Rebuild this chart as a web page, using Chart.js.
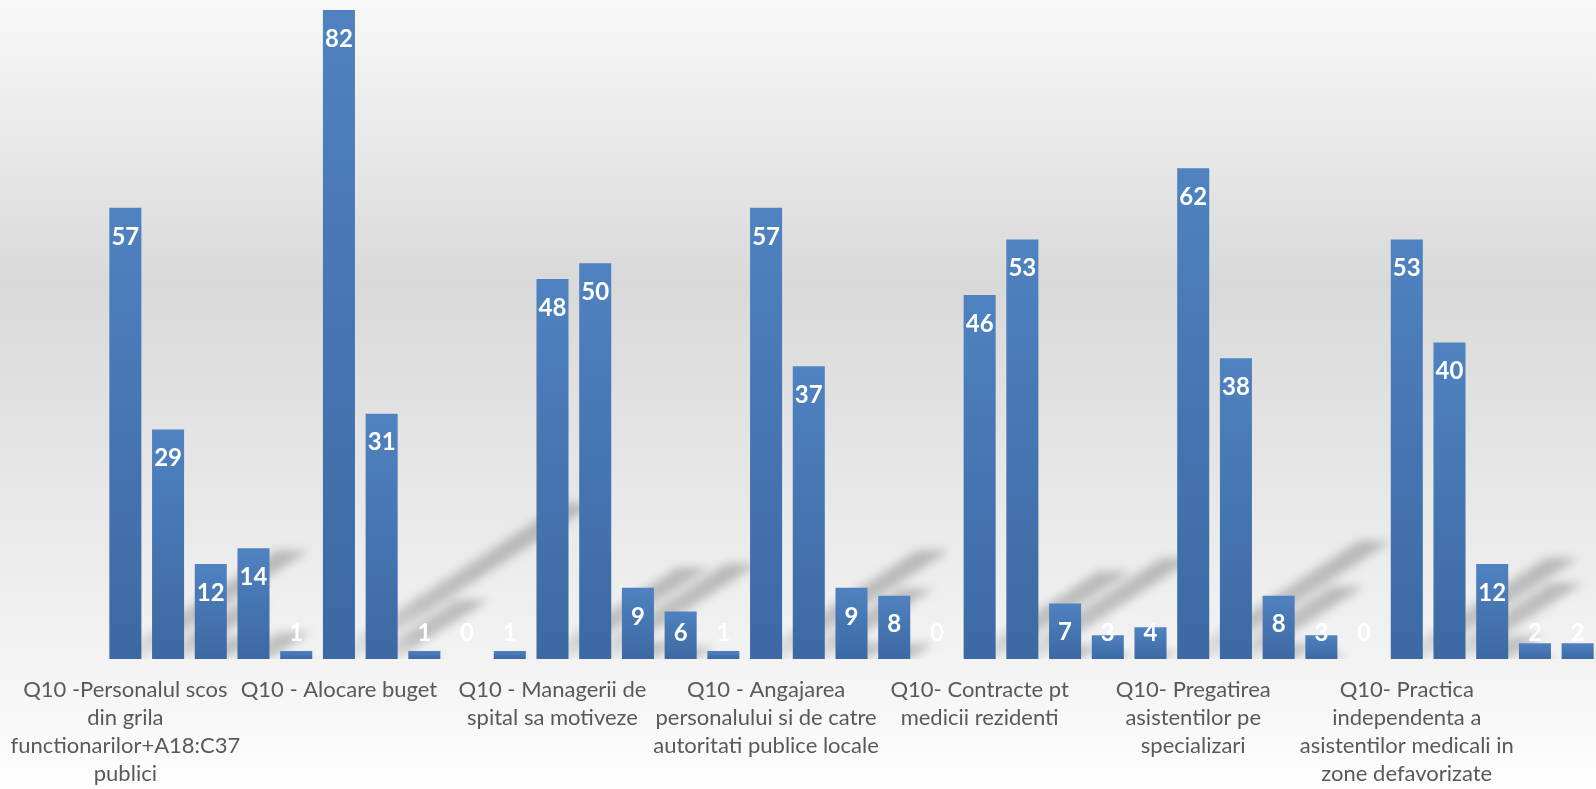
<!DOCTYPE html>
<html>
<head>
<meta charset="utf-8">
<script src="https://cdn.jsdelivr.net/npm/chart.js@4/dist/chart.umd.min.js"></script>
<style>
  html, body { margin: 0; padding: 0; background: #fff; overflow: hidden; }
  #wrap { width: 1599px; height: 789px; position: relative; }
</style>
</head>
<body>
<div id="wrap"><canvas id="q10Chart"></canvas></div>
<script>
// one label every five bars
const questionLabels = [
  ['Q10 -Personalul scos', 'din grila', 'functionarilor+A18:C37', 'publici'],
  ['Q10 - Alocare buget'],
  ['Q10 - Managerii de', 'spital sa motiveze'],
  ['Q10 - Angajarea', 'personalului si de catre', 'autoritati publice locale'],
  ['Q10- Contracte pt', 'medicii rezidenti'],
  ['Q10- Pregatirea', 'asistentilor pe', 'specializari'],
  ['Q10- Practica', 'independenta a', 'asistentilor medicali in', 'zone defavorizate']
];

const values = [
  57, 29, 12, 14, 1,
  82, 31, 1, 0, 1,
  48, 50, 9, 6, 1,
  57, 37, 9, 8, 0,
  46, 53, 7, 3, 4,
  62, 38, 8, 3, 0,
  53, 40, 12, 2, 2
];

const barsPerQuestion = 5;
const yMax = 82;

const labels = values.map((v, i) => i % barsPerQuestion === 0 ? questionLabels[i / barsPerQuestion] : '');

// grey backdrop behind the whole chart
const backdrop = {
  id: 'backdrop',
  beforeDraw(chart) {
    const { ctx, width, height } = chart;
    const g = ctx.createLinearGradient(0, 0, 0, height);
    g.addColorStop(0, '#f8f8f8');
    g.addColorStop(0.36, '#d9d9d9');
    g.addColorStop(0.82, '#f2f2f2');
    g.addColorStop(1, '#fefefe');
    ctx.save();
    ctx.fillStyle = g;
    ctx.fillRect(0, 0, width, height);
    ctx.restore();
  }
};

// slanted soft shadow cast up and to the right from each bar
const barShadows = {
  id: 'barShadows',
  beforeDatasetsDraw(chart) {
    const { ctx, chartArea } = chart;
    const meta = chart.getDatasetMeta(0);
    ctx.save();
    ctx.beginPath();
    ctx.rect(0, 0, chart.width, chartArea.bottom);
    ctx.clip();
    ctx.filter = 'blur(5px)';
    meta.data.forEach(bar => {
      const h = bar.base - bar.y;
      if (h <= 0) return;
      const x0 = bar.x - bar.width / 2;
      const x1 = bar.x + bar.width / 2;
      const dx = h * 0.37;
      const dy = h * 0.24;
      const g = ctx.createLinearGradient(bar.x, bar.base, bar.x + dx, bar.base - dy);
      g.addColorStop(0, 'rgba(0,0,0,0.05)');
      g.addColorStop(0.35, 'rgba(0,0,0,0.2)');
      g.addColorStop(1, 'rgba(0,0,0,0.22)');
      ctx.fillStyle = g;
      ctx.beginPath();
      ctx.moveTo(x0, bar.base);
      ctx.lineTo(x1, bar.base);
      ctx.lineTo(x1 + dx, bar.base - dy);
      ctx.lineTo(x0 + dx, bar.base - dy);
      ctx.closePath();
      ctx.fill();
    });
    ctx.restore();
  }
};

// white value labels near the top of each bar
const valueLabels = {
  id: 'valueLabels',
  afterDatasetsDraw(chart) {
    const { ctx } = chart;
    const meta = chart.getDatasetMeta(0);
    ctx.save();
    ctx.font = 'bold 24px Lato';
    ctx.fillStyle = '#ffffff';
    ctx.textAlign = 'center';
    ctx.textBaseline = 'middle';
    meta.data.forEach((bar, i) => {
      const y = Math.min(bar.y + 29, bar.base - 26);
      ctx.fillText(String(values[i]), bar.x, y);
    });
    ctx.restore();
  }
};

function barFill(context) {
  const chart = context.chart;
  const yScale = chart.scales.y;
  if (!chart.chartArea || !yScale || context.type !== 'data') return '#4677b4';
  const bottom = yScale.getPixelForValue(0);
  let top = yScale.getPixelForValue(context.raw);
  if (bottom - top < 1) top = bottom - 1;
  const g = chart.ctx.createLinearGradient(0, top, 0, bottom);
  g.addColorStop(0, '#4f82c0');
  g.addColorStop(1, '#3c69a3');
  return g;
}

const ctx = document.getElementById('q10Chart').getContext('2d');
new Chart(ctx, {
  type: 'bar',
  data: {
    labels,
    datasets: [{
      data: values,
      backgroundColor: barFill,
      borderWidth: 0,
      barPercentage: 0.75,
      categoryPercentage: 1
    }]
  },
  options: {
    responsive: true,
    maintainAspectRatio: false,
    animation: false,
    layout: { padding: { top: 10, left: 104, right: 0, bottom: 1 } },
    plugins: {
      legend: { display: false },
      tooltip: { enabled: false }
    },
    scales: {
      x: {
        grid: { display: false, drawTicks: false },
        border: { display: false },
        afterFit(scale) {
          // wide wrapped labels may overflow the plot sides
          scale.height = 129;
          scale.paddingLeft = 0;
          scale.paddingRight = 0;
        },
        ticks: {
          autoSkip: false,
          maxRotation: 0,
          minRotation: 0,
          padding: 17,
          color: '#595959',
          font: { family: 'Lato', size: 22, lineHeight: 28 / 22 }
        }
      },
      y: {
        display: false,
        min: 0,
        max: yMax
      }
    }
  },
  plugins: [backdrop, barShadows, valueLabels]
});
</script>
</body>
</html>
